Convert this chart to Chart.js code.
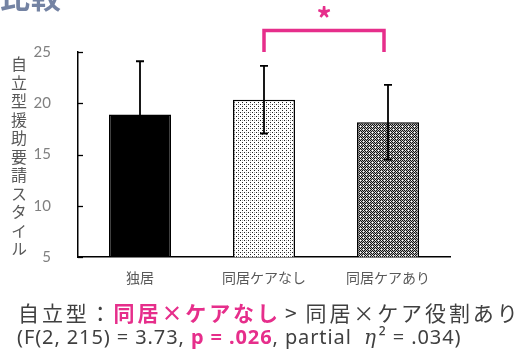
<!DOCTYPE html>
<html>
<head>
<meta charset="utf-8">
<script src="https://cdn.jsdelivr.net/npm/chart.js@4"></script>
<style>
  html, body { margin: 0; padding: 0; background: #fff; }
  #wrap { position: relative; width: 521px; height: 354px; overflow: hidden; font-family: "Noto Sans CJK JP", sans-serif; }
  #chart { position: absolute; left: 0; top: 0; }
  #heading { position: absolute; left: 0; top: -27px; font-size: 30px; font-weight: bold; color: #7483a3; letter-spacing: 1px; }
  #ytitle { position: absolute; left: 10px; top: 56px; writing-mode: vertical-rl; text-orientation: upright; font-size: 16px; letter-spacing: 2.5px; color: #595959; line-height: 18px; }
  #line1 { position: absolute; left: 18px; top: 297px; font-size: 21px; letter-spacing: 2.9px; color: #404040; white-space: nowrap; line-height: 30px; }
  #line2 { position: absolute; left: 17px; top: 325px; font-size: 20px; letter-spacing: 0.9px; color: #404040; white-space: nowrap; line-height: 24px; font-family: "Noto Sans", sans-serif; }
  .gt { margin: 0 6px 0 4px; }
  .hl { color: #e62e8b; font-weight: bold; }
  .eta { font-style: italic; font-family: "DejaVu Serif", serif; margin-right: 2px; }
</style>
</head>
<body>
<div id="wrap">
  <canvas id="chart" width="521" height="354"></canvas>
  <div id="heading">比較</div>
  <div id="ytitle">自立型援助要請スタイル</div>
  <div id="line1">自立型：<span class="hl">同居×ケアなし</span><span class="gt">&gt;</span>同居×ケア役割あり</div>
  <div id="line2">(F(2, 215) = 3.73, <span class="hl">p = .026</span>, partial&nbsp; <span class="eta">η</span>² = .034)</div>
</div>
<script>
// Group means and standard deviations
const categories = ['独居', '同居ケアなし', '同居ケアあり'];
const means = [18.9, 20.35, 18.15];
const sds = [5.2, 3.3, 3.65];
const yTicks = [5, 10, 15, 20, 25];

// Significance marker between the two cohabiting groups
const sigPair = [1, 2];
const sigLevel = 27.1;
const sigFoot = 25.0;

function makePattern(size, draw) {
  const c = document.createElement('canvas');
  c.width = size; c.height = size;
  const g = c.getContext('2d');
  g.fillStyle = '#fff';
  g.fillRect(0, 0, size, size);
  draw(g);
  return c.getContext('2d').createPattern(c, 'repeat');
}

// light dotted fill
const dotFill = makePattern(4, g => {
  g.fillStyle = '#222';
  g.fillRect(0, 0, 1, 1);
  g.fillRect(2, 2, 1, 1);
  g.fillStyle = '#aaa';
  g.fillRect(2, 0, 1, 1);
});

// denser lattice fill
const latticeFill = makePattern(6, g => {
  for (let y = 0; y < 6; y++) {
    for (let x = 0; x < 6; x++) {
      if (x % 3 === 0 && y % 3 === 0) continue;
      g.fillStyle = (x + y) % 2 === 0 ? '#111' : '#b5b5b5';
      g.fillRect(x, y, 1, 1);
    }
  }
});

const fills = ['#000', dotFill, latticeFill];

const errorBars = {
  id: 'errorBars',
  afterDatasetsDraw(chart) {
    const { ctx, scales: { x, y } } = chart;
    ctx.save();
    ctx.strokeStyle = '#000';
    ctx.lineWidth = 1.8;
    means.forEach((m, i) => {
      const px = x.getPixelForValue(i);
      const top = y.getPixelForValue(m + sds[i]);
      const bot = y.getPixelForValue(m - sds[i]);
      ctx.beginPath();
      ctx.moveTo(px, top); ctx.lineTo(px, bot);
      ctx.moveTo(px - 4, top); ctx.lineTo(px + 4, top);
      ctx.moveTo(px - 4, bot); ctx.lineTo(px + 4, bot);
      ctx.stroke();
    });
    ctx.restore();
  }
};

const innerTicks = {
  id: 'innerTicks',
  afterDraw(chart) {
    const { ctx, scales: { y } } = chart;
    ctx.save();
    ctx.strokeStyle = '#000';
    ctx.lineWidth = 1.3;
    yTicks.forEach(v => {
      const py = Math.round(y.getPixelForValue(v)) + 0.5;
      ctx.beginPath();
      ctx.moveTo(y.right, py);
      ctx.lineTo(y.right + 5, py);
      ctx.stroke();
    });
    ctx.restore();
  }
};

const sigBracket = {
  id: 'sigBracket',
  afterDraw(chart) {
    const { ctx, scales: { x, y } } = chart;
    const x1 = x.getPixelForValue(sigPair[0]);
    const x2 = x.getPixelForValue(sigPair[1]) - 4;
    const yl = y.getPixelForValue(sigLevel);
    const yf = y.getPixelForValue(sigFoot);
    ctx.save();
    ctx.strokeStyle = '#e62e8b';
    ctx.lineWidth = 3.5;
    ctx.lineJoin = 'miter';
    ctx.beginPath();
    ctx.moveTo(x1, yf);
    ctx.lineTo(x1, yl);
    ctx.lineTo(x2, yl);
    ctx.lineTo(x2, yf);
    ctx.stroke();
    ctx.fillStyle = '#e62e8b';
    ctx.font = 'bold 30px "Noto Sans CJK JP", sans-serif';
    ctx.textAlign = 'center';
    ctx.textBaseline = 'middle';
    ctx.fillText('*', (x1 + x2) / 2, yl - 12);
    ctx.restore();
  }
};

new Chart(document.getElementById('chart'), {
  type: 'bar',
  data: {
    labels: categories,
    datasets: [{
      data: means,
      backgroundColor: fills,
      borderColor: '#000',
      borderWidth: 1.5,
      borderSkipped: 'bottom',
      barPercentage: 0.5,
      categoryPercentage: 1.0
    }]
  },
  options: {
    responsive: false,
    animation: false,
    layout: { padding: { top: 52, right: 71, left: 0, bottom: 0 } },
    plugins: { legend: { display: false }, tooltip: { enabled: false } },
    scales: {
      x: {
        grid: { display: false },
        border: { color: '#000', width: 1.5 },
        ticks: { color: '#595959', font: { family: '"Noto Sans CJK JP"', size: 14 }, padding: 4 },
        afterFit(s) { s.height = 97; }
      },
      y: {
        min: 5, max: 25,
        afterBuildTicks(s) { s.ticks = yTicks.map(v => ({ value: v })); },
        grid: { display: false, drawTicks: false },
        border: { color: '#000', width: 1.5 },
        ticks: { color: '#808080', font: { family: 'Lato', size: 15 }, padding: 27 },
        afterFit(s) { s.width = 78; }
      }
    }
  },
  plugins: [errorBars, innerTicks, sigBracket]
});
</script>
</body>
</html>
